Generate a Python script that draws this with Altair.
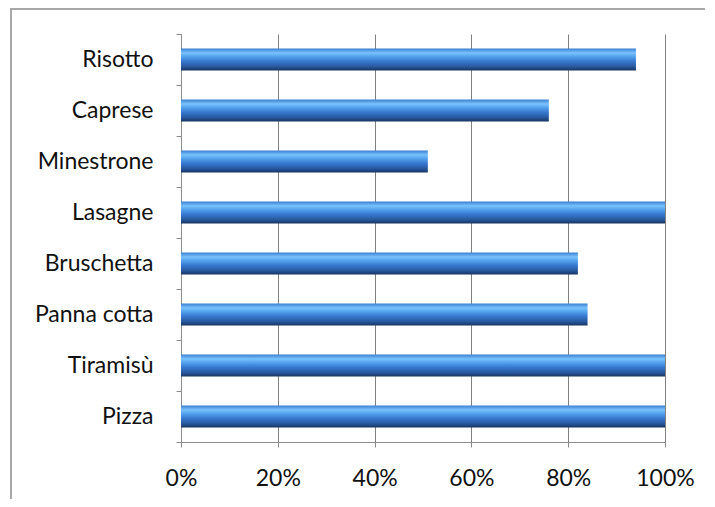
import altair as alt
import pandas as pd

dishes = ["Risotto", "Caprese", "Minestrone", "Lasagne", "Bruschetta",
          "Panna cotta", "Tiramisù", "Pizza"]
shares = [0.94, 0.76, 0.51, 1.00, 0.82, 0.84, 1.00, 1.00]
x_ticks = [0, 0.2, 0.4, 0.6, 0.8, 1.0]

df = pd.DataFrame({"dish": dishes, "share": shares})

grad = alt.Gradient(
    gradient="linear",
    stops=[
        alt.GradientStop(color="#3a7fd2", offset=0.0),
        alt.GradientStop(color="#78c2fc", offset=0.2),
        alt.GradientStop(color="#55a3ee", offset=0.36),
        alt.GradientStop(color="#3779d0", offset=0.58),
        alt.GradientStop(color="#28599f", offset=0.82),
        alt.GradientStop(color="#173461", offset=1.0),
    ],
    x1=0, x2=0, y1=0, y2=1,
)

FONT = "Lato"
FS = 23

y_enc = alt.Y("dish:N", sort=dishes,
              scale=alt.Scale(paddingInner=0, paddingOuter=0),
              axis=alt.Axis(title=None, tickBand="extent", tickSize=5,
                            labelPadding=23, labelFontSize=FS, labelFont=FONT,
                            labelColor="#111111", domainColor="#8c8c8c",
                            tickColor="#8c8c8c", grid=False))
x_enc = alt.X("share:Q", scale=alt.Scale(domain=[0, 1]),
              axis=alt.Axis(values=x_ticks, format=".0%", title=None, grid=True,
                            gridColor="#808080", gridWidth=1, tickSize=5,
                            labelFlush=False,
                            labelPadding=20, labelFontSize=FS, labelFont=FONT,
                            labelColor="#111111", domainColor="#8c8c8c",
                            tickColor="#8c8c8c"))

bars = alt.Chart(df).mark_bar(size=22, color=grad).encode(
    y=y_enc, x=x_enc,
)

border = alt.Chart(pd.DataFrame({"k": [0]})).mark_rect(
    fillOpacity=0, stroke="#a8a8a8", strokeWidth=2
).encode(
    x=alt.value(-170), x2=alt.value(700),
    y=alt.value(-25), y2=alt.value(700),
)

chart = alt.layer(border, bars).properties(
    width=484, height=408,
    padding={"left": 173, "top": 26, "right": 40, "bottom": 57},
    autosize="none",
).configure_view(stroke=None)

chart.save("out.html", embed_options={"renderer": "svg", "actions": False})
